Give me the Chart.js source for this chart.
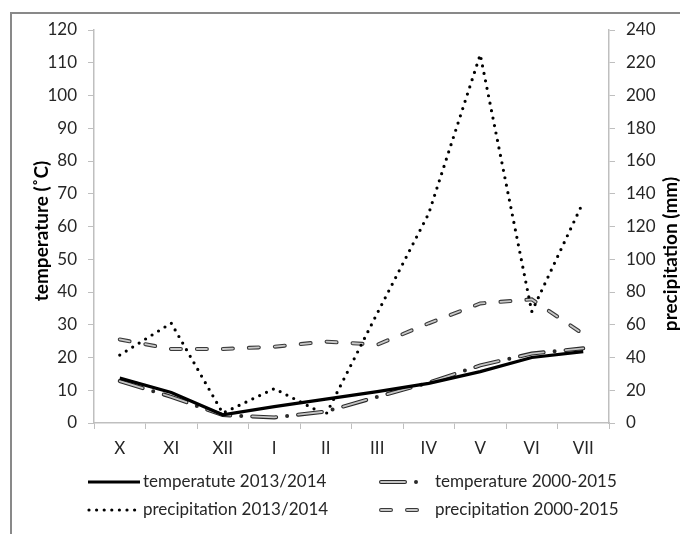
<!DOCTYPE html>
<html>
<head>
<meta charset="utf-8">
<script src="https://cdn.jsdelivr.net/npm/chart.js@4"></script>
<style>
html,body{margin:0;padding:0;background:#fff;}
#wrap{width:680px;height:534px;position:relative;}
</style>
</head>
<body>
<div id="wrap"><canvas id="chart" width="680" height="534"></canvas></div>
<script>
const months=["X","XI","XII","I","II","III","IV","V","VI","VII"];
const temp1314=[13.7,9.3,2.5,5,7.3,9.6,12.1,15.7,20,21.8];
const temp0015=[12.8,8,2.4,1.7,3.5,8,12.3,17.6,21.2,22.8];
const prec1314=[41.5,61,6,21,5,67,128,225,68,135];
const prec0015=[51,45.2,45.2,46.6,49.7,47.8,60.9,73,75.5,54.3];
const legendNames=["temperatute 2013/2014","temperature 2000-2015","precipitation 2013/2014","precipitation 2000-2015"];
const leftTitle="temperature (˚C)";
const rightTitle="precipitation (mm)";

const FONT="Lato, 'Open Sans', sans-serif";
const AXIS_GRAY="#bfbfbf";
const TXT="#262626";

// legend slots: [sampleX, y, sampleLen, textX]
const legendSlots=[[88,482,52,143],[381,482,42,435],[89,510,46,143],[381,510,40,435]];

const frame={
id:'frame',
beforeDraw(chart){
const c=chart.ctx;
c.save();
c.fillStyle='#fff';
c.fillRect(0,0,chart.width,chart.height);
c.strokeStyle='#898989';
c.lineWidth=2;
c.strokeRect(11,13,760,640);
c.restore();
},
afterDraw(chart){
// axis titles, placed like the original
[[leftTitle,41.5,231],[rightTitle,671,254]].forEach(([t,x,y])=>{
const c=chart.ctx;
c.save();
c.fillStyle='#000';
c.font="bold 19px "+FONT;
c.textAlign='center';
c.textBaseline='middle';
c.translate(x,y);
c.rotate(-Math.PI/2);
c.fillText(t,0,0);
c.restore();
});
}
};

function strokeSample(c,ds,x,y,len){
c.save();
c.strokeStyle=ds.borderColor;
c.lineWidth=ds.borderWidth;
c.lineCap=ds.borderCapStyle||'butt';
c.setLineDash(ds.borderDash||[]);
c.lineDashOffset=ds.borderDashOffset||0;
c.beginPath();
c.moveTo(x,y);
c.lineTo(x+len,y);
c.stroke();
c.restore();
}

const customLegend={
id:'customLegend',
afterDraw(chart){
const c=chart.ctx;
const sets=chart.data.datasets;
sets.filter(d=>d.legendIndex!==undefined).forEach(ds=>{
const [x,y,len,tx]=legendSlots[ds.legendIndex];
strokeSample(c,ds,x,y,len);
const over=sets.find(o=>o.overlayOf===ds.legendIndex);
if(over) strokeSample(c,over,x,y,len);
c.save();
c.fillStyle=TXT;
c.font="17px "+FONT;
c.textBaseline='middle';
c.textAlign='left';
c.fillText(legendNames[ds.legendIndex],tx,y);
c.restore();
});
}
};

const datasets=[
{label:legendNames[0],data:temp1314,yAxisID:'y',borderColor:'#000',borderWidth:3.2,legendIndex:0,order:0},
{label:'t2 fill',data:temp0015,yAxisID:'y',borderColor:'#c4c4c4',borderWidth:1.8,borderDash:[24,22],borderCapStyle:'round',overlayOf:1,order:1},
{label:legendNames[1],data:temp0015,yAxisID:'y',borderColor:'#2a2a2a',borderWidth:4,borderDash:[24,11,0,11],borderCapStyle:'round',legendIndex:1,order:2},
{label:legendNames[2],data:prec1314,yAxisID:'y1',borderColor:'#000',borderWidth:3.2,borderDash:[0,7.6],borderCapStyle:'round',legendIndex:2,order:3},
{label:'p2 fill',data:prec0015,yAxisID:'y1',borderColor:'#c8c8c8',borderWidth:1.8,borderDash:[10,16],borderCapStyle:'round',overlayOf:3,order:4},
{label:legendNames[3],data:prec0015,yAxisID:'y1',borderColor:'#3a3a3a',borderWidth:4,borderDash:[10,16],borderCapStyle:'round',legendIndex:3,order:5}
];

new Chart(document.getElementById("chart"),{
type:'line',
data:{labels:months,datasets:datasets},
options:{
responsive:false,
animation:false,
devicePixelRatio:1,
layout:{padding:{top:30,left:0,right:0,bottom:71}},
elements:{point:{radius:0},line:{tension:0,fill:false}},
plugins:{legend:{display:false},tooltip:{enabled:false}},
scales:{
x:{
offset:true,
grid:{drawOnChartArea:false,offset:true,tickLength:6,color:AXIS_GRAY},
border:{color:AXIS_GRAY,width:1.5},
ticks:{color:TXT,font:{family:FONT,size:17},padding:9,maxRotation:0},
afterFit(s){s.height=40;}
},
y:{
position:'left',min:0,max:120,
grid:{drawOnChartArea:false,tickLength:6,color:AXIS_GRAY},
border:{color:AXIS_GRAY,width:1.5},
ticks:{stepSize:10,color:TXT,font:{family:FONT,size:17},padding:11},
afterFit(s){s.width=94;}
},
y1:{
position:'right',min:0,max:240,
grid:{drawOnChartArea:false,tickLength:6,color:AXIS_GRAY},
border:{color:AXIS_GRAY,width:1.5},
ticks:{stepSize:20,color:TXT,font:{family:FONT,size:17},padding:11},
afterFit(s){s.width=71;}
}
}
},
plugins:[frame,customLegend]
});
</script>
</body>
</html>
